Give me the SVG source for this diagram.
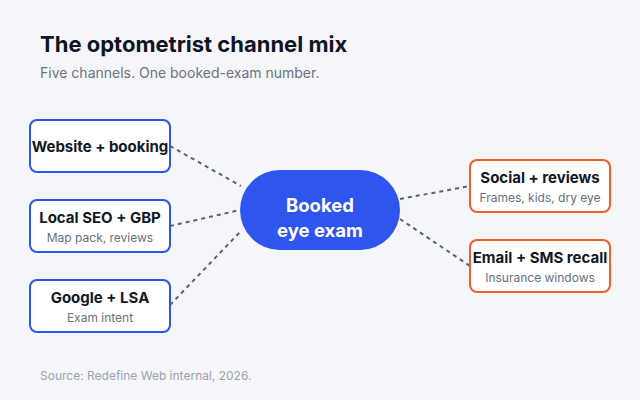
<svg xmlns="http://www.w3.org/2000/svg" width="640" height="400" viewBox="0 0 640 400">
<style>
.t{font-family:Inter,"Liberation Sans",sans-serif}
.title{font-size:22px;font-weight:700;fill:#0f1424}
.sub{font-size:14px;fill:#6b7385}
.nt{font-size:15px;font-weight:700;fill:#111827;text-anchor:middle}
.ns{font-size:12px;fill:#64708a;text-anchor:middle}
.bl{fill:#fff;stroke:#2f55ef;stroke-width:2}
.or{fill:#fff;stroke:#f45d2a;stroke-width:2}
.c{stroke:#5b6170;stroke-width:2;stroke-dasharray:4 4;fill:none}
.src{font-size:12px;fill:#9aa1b1}
</style>
<rect width="640" height="400" fill="#f5f6fa"/>
<text class="t title" x="40" y="52">The optometrist channel mix</text>
<text class="t sub" x="40" y="78">Five channels. One booked-exam number.</text>
<g id="connectors">
<line class="c" x1="170" y1="146" x2="241" y2="186"/>
<line class="c" x1="170" y1="226" x2="240" y2="210"/>
<line class="c" x1="170" y1="305" x2="240" y2="232"/>
<line class="c" x1="400" y1="199" x2="470" y2="186"/>
<line class="c" x1="400" y1="219" x2="470" y2="266"/>
</g>
<g id="website">
<rect class="bl" x="30" y="120" width="140" height="52" rx="7"/>
<text class="t nt" x="100" y="152">Website + booking</text>
</g>
<g id="localseo">
<rect class="bl" x="30" y="200" width="140" height="52" rx="7"/>
<text class="t nt" x="100" y="223">Local SEO + GBP</text>
<text class="t ns" x="100" y="242">Map pack, reviews</text>
</g>
<g id="google">
<rect class="bl" x="30" y="280" width="140" height="52" rx="7"/>
<text class="t nt" x="100" y="303">Google + LSA</text>
<text class="t ns" x="100" y="322">Exam intent</text>
</g>
<g id="center">
<rect x="240" y="170" width="160" height="80" rx="40" fill="#2f55ef"/>
<text class="t" x="320" y="212" font-size="18.5" font-weight="700" fill="#fff" text-anchor="middle">Booked</text>
<text class="t" x="320" y="237" font-size="18.5" font-weight="700" fill="#fff" text-anchor="middle">eye exam</text>
</g>
<g id="social">
<rect class="or" x="470" y="160" width="140" height="52" rx="7"/>
<text class="t nt" x="540" y="183">Social + reviews</text>
<text class="t ns" x="540" y="202">Frames, kids, dry eye</text>
</g>
<g id="email">
<rect class="or" x="470" y="240" width="140" height="52" rx="7"/>
<text class="t nt" x="540" y="263">Email + SMS recall</text>
<text class="t ns" x="540" y="282">Insurance windows</text>
</g>
<text class="t src" x="40" y="380">Source: Redefine Web internal, 2026.</text>
</svg>
